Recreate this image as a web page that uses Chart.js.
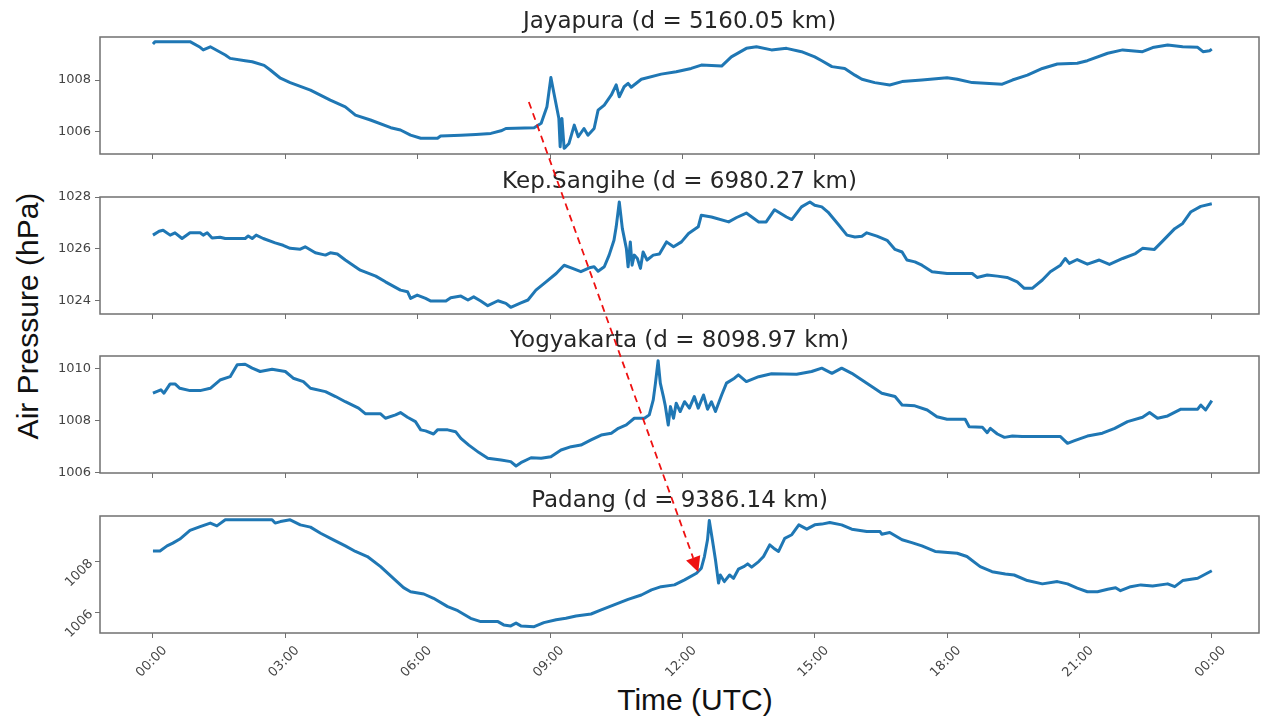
<!DOCTYPE html>
<html>
<head>
<meta charset="utf-8">
<script src="https://cdn.jsdelivr.net/npm/chart.js@4.4.0/dist/chart.umd.min.js"></script>
<style>
  html, body { margin: 0; padding: 0; background: #fff; }
  #page { position: relative; width: 1262px; height: 717px; overflow: hidden; background: #fff; }
  #page canvas { position: absolute; left: 0; }
  #arrow { top: 0; pointer-events: none; z-index: 5; }
  .axis-label { position: absolute; font-family: "Liberation Sans", Arial, sans-serif; font-size: 30px; line-height: 1; color: #111; white-space: nowrap; }
  #ylabel { left: 28px; top: 316px; transform: translate(-50%, -50%) rotate(-90deg); }
  #xlabel { left: 695px; top: 700px; transform: translate(-50%, -50%); }
</style>
</head>
<body>
<div id="page">
  <div class="axis-label" id="ylabel">Air Pressure (hPa)</div>
  <div class="axis-label" id="xlabel">Time (UTC)</div>
  <canvas id="arrow" width="1262" height="717"></canvas>
</div>
<script>
// ---- data (hours since 00:00 UTC, hPa) ----
var stationTitles = ['Jayapura (d = 5160.05 km)', 'Kep.Sangihe (d = 6980.27 km)',
  'Yogyakarta (d = 8098.97 km)', 'Padang (d = 9386.14 km)'];

var jayapuraHours = [
  0, 0.05, 0.84, 1.07, 1.14, 1.3, 1.64, 1.75, 2.09, 2.25,
  2.52, 2.66, 2.89, 3.11, 3.57, 4.02, 4.36, 4.59, 4.93, 5.39,
  5.61, 5.84, 6.07, 6.45, 6.52, 6.98, 7.32, 7.66, 7.89, 8.0,
  8.64, 8.8, 8.93, 9.02, 9.09, 9.2, 9.23, 9.27, 9.32, 9.36,
  9.43, 9.55, 9.64, 9.77, 9.86, 10.0, 10.09, 10.23, 10.39, 10.5,
  10.57, 10.68, 10.77, 10.84, 11.07, 11.52, 11.86, 12.2, 12.43, 12.89,
  13.11, 13.45, 13.68, 14.02, 14.36, 14.7, 15.0, 15.16, 15.39, 15.68,
  15.91, 16.07, 16.36, 16.7, 16.98, 17.43, 18.0, 18.23, 18.57, 19.25,
  19.48, 19.82, 20.16, 20.5, 20.95, 21.18, 21.64, 21.98, 22.43, 22.66,
  23.0, 23.34, 23.68, 23.8, 23.95, 24.0];
var jayapuraHpa = [
  1009.40, 1009.49, 1009.49, 1009.27, 1009.17, 1009.29, 1008.97, 1008.84, 1008.75, 1008.71,
  1008.57, 1008.39, 1008.07, 1007.90, 1007.61, 1007.22, 1006.96, 1006.64, 1006.45, 1006.15,
  1006.06, 1005.86, 1005.74, 1005.74, 1005.83, 1005.86, 1005.89, 1005.93, 1006.03, 1006.12,
  1006.15, 1006.32, 1006.96, 1008.10, 1007.48, 1006.52, 1005.41, 1006.51, 1005.35, 1005.41,
  1005.54, 1006.25, 1005.80, 1006.12, 1005.86, 1006.12, 1006.83, 1007.03, 1007.42, 1007.81,
  1007.35, 1007.74, 1007.87, 1007.72, 1008.03, 1008.23, 1008.32, 1008.45, 1008.58, 1008.54,
  1008.90, 1009.23, 1009.29, 1009.17, 1009.23, 1009.10, 1008.90, 1008.75, 1008.52, 1008.45,
  1008.19, 1008.03, 1007.90, 1007.81, 1007.94, 1008.00, 1008.09, 1008.03, 1007.90, 1007.84,
  1008.00, 1008.19, 1008.45, 1008.62, 1008.65, 1008.75, 1009.04, 1009.17, 1009.10, 1009.26,
  1009.36, 1009.29, 1009.27, 1009.10, 1009.14, 1009.20];

var sangiheHours = [
  0, 0.14, 0.23, 0.39, 0.5, 0.66, 0.84, 1.07, 1.14, 1.23,
  1.34, 1.52, 1.64, 2.09, 2.16, 2.25, 2.34, 2.5, 2.77, 2.95,
  3.11, 3.34, 3.45, 3.68, 3.91, 4.02, 4.18, 4.36, 4.7, 5.05,
  5.27, 5.61, 5.77, 5.84, 5.99, 6.18, 6.3, 6.64, 6.75, 6.98,
  7.14, 7.27, 7.43, 7.59, 7.82, 8.0, 8.11, 8.34, 8.5, 8.68,
  8.91, 9.14, 9.32, 9.48, 9.7, 9.89, 10.0, 10.09, 10.23, 10.34,
  10.45, 10.5, 10.57, 10.64, 10.73, 10.77, 10.82, 10.86, 10.91, 10.98,
  11.05, 11.11, 11.2, 11.34, 11.48, 11.64, 11.8, 11.98, 12.14, 12.36,
  12.43, 12.66, 13.05, 13.23, 13.45, 13.73, 13.9, 14.09, 14.36, 14.48,
  14.7, 14.89, 15.0, 15.16, 15.3, 15.55, 15.73, 15.91, 16.07, 16.18,
  16.41, 16.64, 16.82, 16.98, 17.09, 17.27, 17.43, 17.66, 18.0, 18.57,
  18.68, 18.91, 19.14, 19.36, 19.59, 19.75, 19.93, 20.16, 20.34, 20.57,
  20.68, 20.77, 20.95, 21.18, 21.45, 21.68, 21.98, 22.27, 22.43, 22.7,
  22.89, 23.16, 23.34, 23.52, 23.75, 24.0];
var sangiheHpa = [
  1026.53, 1026.68, 1026.72, 1026.53, 1026.62, 1026.40, 1026.62, 1026.62, 1026.53, 1026.62,
  1026.42, 1026.45, 1026.40, 1026.40, 1026.50, 1026.40, 1026.53, 1026.40, 1026.23, 1026.14,
  1026.02, 1025.99, 1026.08, 1025.85, 1025.76, 1025.85, 1025.80, 1025.57, 1025.18, 1024.95,
  1024.73, 1024.41, 1024.35, 1024.09, 1024.22, 1024.09, 1023.99, 1023.99, 1024.12, 1024.18,
  1024.03, 1024.15, 1023.99, 1023.81, 1024.00, 1023.90, 1023.75, 1023.92, 1024.03, 1024.41,
  1024.73, 1025.05, 1025.37, 1025.27, 1025.12, 1025.27, 1025.31, 1025.14, 1025.31, 1025.76,
  1026.33, 1026.85, 1027.81, 1026.78, 1026.02, 1025.31, 1026.27, 1025.37, 1025.76, 1025.63,
  1025.25, 1025.88, 1025.57, 1025.76, 1025.80, 1026.27, 1026.08, 1026.27, 1026.59, 1026.85,
  1027.30, 1027.23, 1027.04, 1027.21, 1027.38, 1027.04, 1027.04, 1027.51, 1027.23, 1027.13,
  1027.62, 1027.81, 1027.68, 1027.62, 1027.42, 1026.91, 1026.53, 1026.46, 1026.49, 1026.62,
  1026.49, 1026.33, 1025.98, 1025.88, 1025.57, 1025.50, 1025.37, 1025.12, 1025.05, 1025.05,
  1024.90, 1024.99, 1024.95, 1024.90, 1024.73, 1024.48, 1024.48, 1024.80, 1025.12, 1025.37,
  1025.63, 1025.44, 1025.59, 1025.41, 1025.57, 1025.40, 1025.63, 1025.82, 1026.02, 1025.98,
  1026.31, 1026.78, 1026.98, 1027.42, 1027.64, 1027.74];

var yogyaHours = [
  0, 0.18, 0.25, 0.39, 0.5, 0.61, 0.84, 1.07, 1.3, 1.52,
  1.75, 1.91, 2.09, 2.25, 2.43, 2.7, 3.0, 3.18, 3.41, 3.57,
  3.91, 4.14, 4.36, 4.66, 4.82, 5.16, 5.27, 5.5, 5.61, 5.77,
  5.95, 6.07, 6.18, 6.36, 6.45, 6.68, 6.86, 6.98, 7.16, 7.39,
  7.59, 7.89, 8.11, 8.23, 8.34, 8.57, 8.8, 9.02, 9.25, 9.48,
  9.7, 9.93, 10.16, 10.39, 10.55, 10.73, 10.91, 11.14, 11.25, 11.34,
  11.39, 11.45, 11.5, 11.57, 11.61, 11.68, 11.73, 11.8, 11.86, 11.95,
  12.05, 12.16, 12.27, 12.36, 12.48, 12.57, 12.66, 12.75, 12.89, 13.0,
  13.18, 13.27, 13.45, 13.73, 14.02, 14.59, 14.93, 15.16, 15.39, 15.61,
  15.84, 16.07, 16.3, 16.52, 16.82, 16.98, 17.27, 17.55, 17.77, 18.0,
  18.41, 18.5, 18.8, 18.91, 18.98, 19.14, 19.3, 19.48, 19.7, 20.57,
  20.73, 20.89, 21.18, 21.52, 21.8, 22.09, 22.43, 22.59, 22.77, 23.0,
  23.3, 23.68, 23.75, 23.86, 24.0];
var yogyaHpa = [
  1009.06, 1009.19, 1009.06, 1009.42, 1009.42, 1009.25, 1009.16, 1009.16, 1009.25, 1009.57,
  1009.70, 1010.16, 1010.18, 1010.03, 1009.90, 1009.99, 1009.90, 1009.64, 1009.51, 1009.25,
  1009.12, 1008.93, 1008.73, 1008.48, 1008.26, 1008.26, 1008.09, 1008.22, 1008.31, 1008.13,
  1007.96, 1007.64, 1007.60, 1007.48, 1007.64, 1007.64, 1007.57, 1007.31, 1007.05, 1006.76,
  1006.54, 1006.47, 1006.41, 1006.24, 1006.37, 1006.56, 1006.54, 1006.60, 1006.86, 1006.99,
  1007.05, 1007.25, 1007.44, 1007.51, 1007.70, 1007.83, 1008.09, 1008.09, 1008.22, 1008.80,
  1009.45, 1010.32, 1009.45, 1008.93, 1008.60, 1007.83, 1008.54, 1008.09, 1008.67, 1008.35,
  1008.73, 1008.48, 1008.93, 1008.48, 1008.99, 1008.44, 1008.73, 1008.35, 1008.99, 1009.45,
  1009.64, 1009.77, 1009.51, 1009.70, 1009.81, 1009.79, 1009.90, 1010.03, 1009.83, 1010.03,
  1009.83, 1009.57, 1009.31, 1009.06, 1008.93, 1008.60, 1008.57, 1008.41, 1008.15, 1008.05,
  1008.05, 1007.76, 1007.74, 1007.53, 1007.70, 1007.48, 1007.35, 1007.40, 1007.38, 1007.38,
  1007.12, 1007.22, 1007.40, 1007.51, 1007.70, 1007.96, 1008.13, 1008.31, 1008.09, 1008.18,
  1008.44, 1008.44, 1008.60, 1008.41, 1008.77];

var padangHours = [
  0, 0.16, 0.32, 0.45, 0.61, 0.84, 1.07, 1.3, 1.45, 1.64,
  2.09, 2.7, 2.77, 2.89, 3.11, 3.34, 3.57, 3.8, 4.09, 4.36,
  4.59, 4.86, 5.16, 5.45, 5.68, 5.84, 6.14, 6.36, 6.68, 6.91,
  7.2, 7.43, 7.82, 7.95, 8.11, 8.23, 8.34, 8.64, 8.86, 9.14,
  9.36, 9.59, 9.93, 10.16, 10.45, 10.77, 11.07, 11.3, 11.52, 11.82,
  12.05, 12.32, 12.43, 12.5, 12.57, 12.61, 12.68, 12.75, 12.82, 12.86,
  12.95, 13.07, 13.16, 13.27, 13.39, 13.48, 13.57, 13.73, 13.84, 13.98,
  14.07, 14.18, 14.32, 14.48, 14.64, 14.82, 15.0, 15.16, 15.34, 15.61,
  15.84, 16.18, 16.48, 16.52, 16.7, 16.98, 17.2, 17.43, 17.73, 18.23,
  18.45, 18.75, 19.02, 19.32, 19.52, 19.82, 20.16, 20.5, 20.73, 20.95,
  21.18, 21.41, 21.64, 21.82, 21.93, 22.16, 22.39, 22.66, 23.0, 23.16,
  23.34, 23.68, 24.0];
var padangHpa = [
  1008.42, 1008.42, 1008.62, 1008.73, 1008.89, 1009.23, 1009.38, 1009.52, 1009.41, 1009.65,
  1009.65, 1009.65, 1009.52, 1009.58, 1009.65, 1009.45, 1009.36, 1009.12, 1008.86, 1008.62,
  1008.40, 1008.20, 1007.80, 1007.34, 1006.97, 1006.81, 1006.72, 1006.55, 1006.22, 1006.06,
  1005.76, 1005.63, 1005.63, 1005.50, 1005.46, 1005.57, 1005.46, 1005.43, 1005.59, 1005.70,
  1005.76, 1005.85, 1005.93, 1006.09, 1006.29, 1006.51, 1006.68, 1006.88, 1007.01, 1007.08,
  1007.28, 1007.54, 1007.74, 1008.20, 1008.86, 1009.62, 1008.86, 1008.07, 1007.15, 1007.47,
  1007.21, 1007.47, 1007.34, 1007.70, 1007.80, 1007.91, 1007.78, 1008.00, 1008.20, 1008.66,
  1008.53, 1008.40, 1008.92, 1009.06, 1009.45, 1009.28, 1009.45, 1009.48, 1009.54, 1009.45,
  1009.28, 1009.19, 1009.19, 1009.08, 1009.15, 1008.86, 1008.75, 1008.62, 1008.40, 1008.33,
  1008.20, 1007.80, 1007.60, 1007.51, 1007.47, 1007.25, 1007.12, 1007.21, 1007.12, 1006.95,
  1006.81, 1006.81, 1006.91, 1006.97, 1006.85, 1007.01, 1007.08, 1007.04, 1007.12, 1007.01,
  1007.25, 1007.34, 1007.64];

var hourTicks = [0, 3, 6, 9, 12, 15, 18, 21, 24];
var yTicks = [[1006, 1008], [1024, 1026, 1028], [1006, 1008, 1010], [1006, 1008]];
var yMin = [1005.13, 1023.49, 1005.97, 1005.18];
var yMax = [1009.67, 1028.0, 1010.5, 1009.8];
var xMin = -1.2, xMax = 25.07;

// red dashed arrow, anchored in data coordinates of the first and last panel
var arrowFrom = { panel: 0, hour: 8.52, hPa: 1007.15 };
var arrowTo = { panel: 3, hour: 12.36, hPa: 1007.59 };

var series = [
  [jayapuraHours, jayapuraHpa],
  [sangiheHours, sangiheHpa],
  [yogyaHours, yogyaHpa],
  [padangHours, padangHpa]
];

// ---- layout ----
var PLOT_TOPS = [37, 197, 356, 516];
var PLOT_H = 117, TITLE_H = 37, AXIS_W = 100;

Chart.defaults.font.family = 'DejaVu Sans';
Chart.defaults.color = '#444';

var frame = {
  id: 'frame',
  afterDatasetsDraw: function (chart) {
    var a = chart.chartArea, ctx = chart.ctx;
    ctx.save();
    ctx.strokeStyle = '#707070';
    ctx.lineWidth = 1.5;
    ctx.strokeRect(a.left, a.top, a.right - a.left, a.bottom - a.top);
    ctx.restore();
  }
};

var page = document.getElementById('page');
var charts = series.map(function (s, i) {
  var last = i === series.length - 1;
  var bottomH = last ? 717 - (PLOT_TOPS[i] + PLOT_H) : 16;
  var canvas = document.createElement('canvas');
  canvas.width = 1262;
  canvas.height = TITLE_H + PLOT_H + bottomH;
  canvas.style.width = '1262px';
  canvas.style.height = canvas.height + 'px';
  canvas.style.top = (PLOT_TOPS[i] - TITLE_H) + 'px';
  page.insertBefore(canvas, document.getElementById('arrow'));

  var points = s[0].map(function (h, k) { return { x: h, y: s[1][k] }; });

  return new Chart(canvas, {
    type: 'line',
    data: {
      datasets: [{
        data: points,
        borderColor: '#1f77b4',
        borderWidth: 3,
        pointRadius: 0,
        tension: 0,
        borderJoinStyle: 'round'
      }]
    },
    options: {
      responsive: false,
      animation: false,
      events: [],
      layout: { padding: { left: 0, right: 3, top: 0, bottom: 0 } },
      plugins: {
        legend: { display: false },
        tooltip: { enabled: false },
        title: {
          display: true,
          fullSize: false,
          text: stationTitles[i],
          color: '#262626',
          font: { family: 'DejaVu Sans', size: 23, weight: 'normal', lineHeight: '26px' },
          padding: { top: 9, bottom: 2 }
        }
      },
      scales: {
        x: {
          type: 'linear',
          min: xMin,
          max: xMax,
          afterBuildTicks: function (scale) {
            scale.ticks = hourTicks.map(function (v) { return { value: v }; });
          },
          afterFit: function (scale) { scale.height = bottomH; },
          grid: { display: true, drawOnChartArea: false, drawTicks: true, tickLength: 5, color: '#707070' },
          border: { display: false },
          ticks: {
            display: last,
            autoSkip: false,
            minRotation: 45,
            maxRotation: 45,
            labelOffset: 12,
            padding: 5,
            color: '#444',
            font: { size: 13 },
            callback: function (v) { return String(v % 24).padStart(2, '0') + ':00'; }
          }
        },
        y: {
          type: 'linear',
          min: yMin[i],
          max: yMax[i],
          afterBuildTicks: function (scale) {
            scale.ticks = yTicks[i].map(function (v) { return { value: v }; });
          },
          afterFit: function (scale) { scale.width = AXIS_W; },
          grid: { display: true, drawOnChartArea: false, drawTicks: true, tickLength: 5, color: '#707070' },
          border: { display: false },
          ticks: {
            padding: 4,
            color: '#444',
            font: { size: 13 },
            minRotation: last ? 45 : 0,
            maxRotation: last ? 45 : 0,
            callback: function (v) { return String(v); }
          }
        }
      }
    },
    plugins: [frame]
  });
});

// ---- arrow overlay ----
function toPage(pt) {
  var c = charts[pt.panel];
  return {
    x: c.scales.x.getPixelForValue(pt.hour),
    y: c.scales.y.getPixelForValue(pt.hPa) + (PLOT_TOPS[pt.panel] - TITLE_H)
  };
}
var a0 = toPage(arrowFrom), a1 = toPage(arrowTo);
var actx = document.getElementById('arrow').getContext('2d');
var dx = a1.x - a0.x, dy = a1.y - a0.y, len = Math.sqrt(dx * dx + dy * dy);
var ux = dx / len, uy = dy / len, headL = 15, headW = 7.5;
var bx = a1.x - ux * headL, by = a1.y - uy * headL;
actx.strokeStyle = '#ee1111';
actx.fillStyle = '#ee1111';
actx.lineWidth = 1.8;
actx.setLineDash([7, 5]);
actx.beginPath();
actx.moveTo(a0.x, a0.y);
actx.lineTo(bx, by);
actx.stroke();
actx.setLineDash([]);
actx.beginPath();
actx.moveTo(a1.x, a1.y);
actx.lineTo(bx - uy * headW, by + ux * headW);
actx.lineTo(bx + uy * headW, by - ux * headW);
actx.closePath();
actx.fill();
</script>
</body>
</html>
